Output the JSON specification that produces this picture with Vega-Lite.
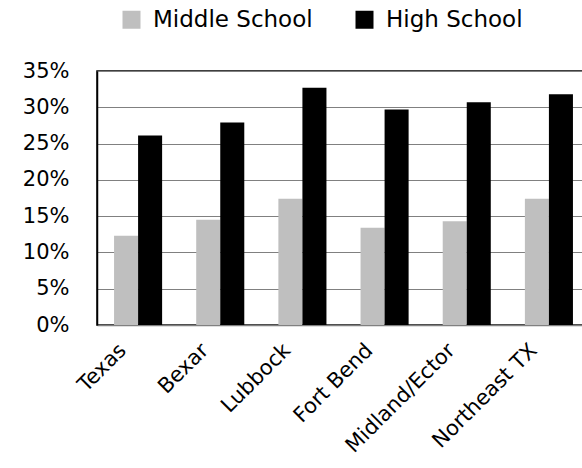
{
  "$schema": "https://vega.github.io/schema/vega-lite/v6.json",
  "autosize": {"type": "none"},
  "padding": {"left": 97, "top": 71, "right": 0, "bottom": 143},
  "width": 493,
  "height": 254,
  "background": "#ffffff",
  "config": {
    "view": {"stroke": "#000000", "strokeWidth": 1.5},
    "font": "DejaVu Sans"
  },
  "data": {
    "values": [
      {"region": "Texas", "group": "Middle School", "rate": 0.123},
      {"region": "Texas", "group": "High School", "rate": 0.261},
      {"region": "Bexar", "group": "Middle School", "rate": 0.145},
      {"region": "Bexar", "group": "High School", "rate": 0.279},
      {"region": "Lubbock", "group": "Middle School", "rate": 0.174},
      {"region": "Lubbock", "group": "High School", "rate": 0.327},
      {"region": "Fort Bend", "group": "Middle School", "rate": 0.134},
      {"region": "Fort Bend", "group": "High School", "rate": 0.297},
      {"region": "Midland/Ector", "group": "Middle School", "rate": 0.143},
      {"region": "Midland/Ector", "group": "High School", "rate": 0.307},
      {"region": "Northeast TX", "group": "Middle School", "rate": 0.174},
      {"region": "Northeast TX", "group": "High School", "rate": 0.318}
    ]
  },
  "mark": {"type": "bar"},
  "encoding": {
    "x": {
      "field": "region",
      "type": "nominal",
      "sort": ["Texas", "Bexar", "Lubbock", "Fort Bend", "Midland/Ector", "Northeast TX"],
      "scale": {"paddingInner": 0.415, "paddingOuter": 0.2075},
      "axis": {
        "title": null,
        "labelAngle": -45,
        "labelAlign": "right",
        "labelBaseline": "middle",
        "labelFont": "DejaVu Sans",
        "labelFontSize": 21,
        "labelColor": "#000000",
        "labelPadding": 22,
        "labelOffset": -15,
        "ticks": false,
        "domainColor": "#808080",
        "domainWidth": 1.5,
        "grid": false
      }
    },
    "xOffset": {
      "field": "group",
      "type": "nominal",
      "sort": ["Middle School", "High School"],
      "scale": {"paddingInner": 0, "paddingOuter": 0}
    },
    "y": {
      "field": "rate",
      "type": "quantitative",
      "scale": {"domain": [0, 0.35], "nice": false},
      "axis": {
        "title": null,
        "format": ".0%",
        "values": [0, 0.05, 0.1, 0.15, 0.2, 0.25, 0.3, 0.35],
        "labelFont": "DejaVu Sans",
        "labelFontSize": 21,
        "labelColor": "#000000",
        "labelPadding": 28,
        "ticks": false,
        "domainColor": "#000000",
        "domainWidth": 1.5,
        "grid": true,
        "gridColor": "#808080",
        "gridWidth": 1.2
      }
    },
    "color": {
      "field": "group",
      "type": "nominal",
      "sort": ["Middle School", "High School"],
      "scale": {"domain": ["Middle School", "High School"], "range": ["#BFBFBF", "#000000"]},
      "legend": {
        "title": null,
        "orient": "none",
        "direction": "horizontal",
        "legendX": 23,
        "legendY": -63,
        "symbolType": "square",
        "symbolSize": 324,
        "symbolStrokeWidth": 0,
        "labelFont": "DejaVu Sans",
        "labelFontSize": 23,
        "labelColor": "#000000",
        "labelOffset": 10,
        "columnPadding": 40,
        "labelLimit": 400
      }
    }
  }
}
